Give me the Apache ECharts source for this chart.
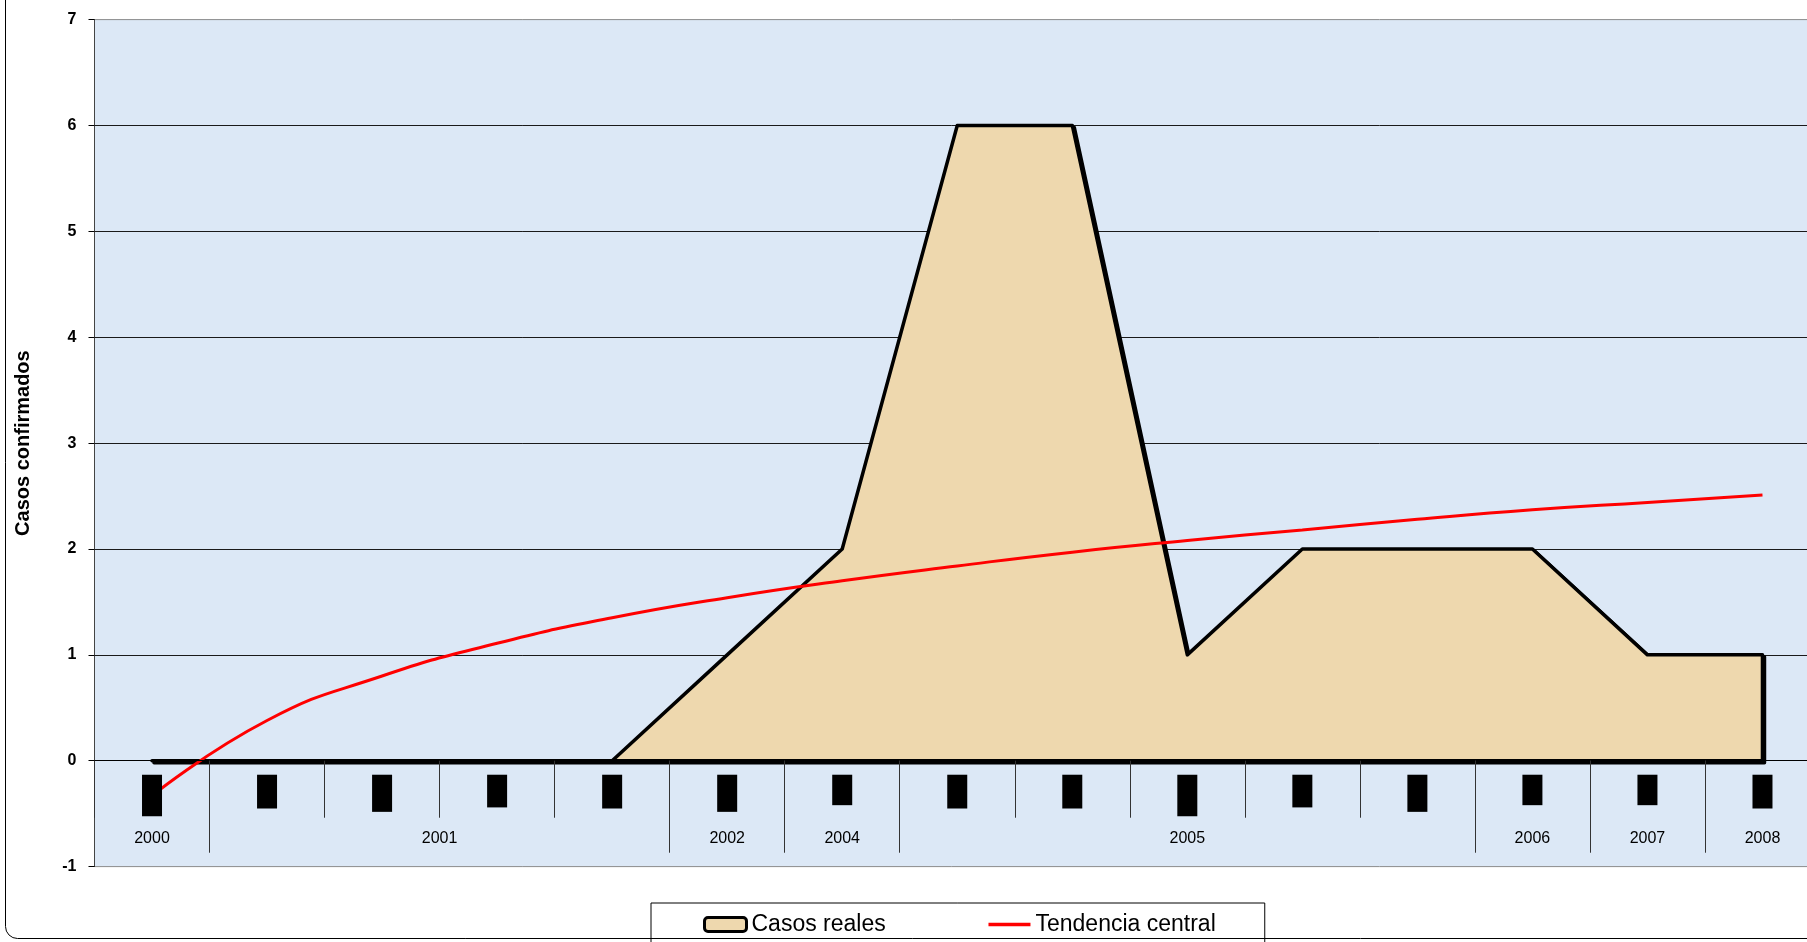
<!DOCTYPE html>
<html>
<head>
<meta charset="utf-8">
<title>Casos confirmados</title>
<script src="https://cdn.jsdelivr.net/npm/echarts@6/dist/echarts.min.js"></script>
<style>
  html, body { margin: 0; padding: 0; background: #fff; }
  #chart { width: 1807px; height: 942px; }
</style>
</head>
<body>
<div id="chart"></div>
<script>
// categorias (las etiquetas de mes aparecen tapadas en el original)
var meses = ['Octubre', 'Marzo', 'Agosto', 'Enero', 'Marzo', 'Agosto', 'Mayo', 'Marzo',
             'Marzo', 'Octubre', 'Enero', 'Agosto', 'Mayo', 'Mayo', 'Marzo'];
var anios = ['2000', '2001', '2002', '2004', '2005', '2006', '2007', '2008'];
var mesesPorAnio = [1, 4, 1, 1, 5, 1, 1, 1];
var casosReales = [0, 0, 0, 0, 0, 1, 2, 6, 6, 1, 2, 2, 2, 1, 1];
var tendencia = [-0.33, 0.38, 0.80, 1.11, 1.35, 1.54, 1.70, 1.84, 1.97, 2.08, 2.18, 2.28, 2.37, 2.44, 2.51];
var yMin = -1, yMax = 7, yPaso = 1;

var fuente = 'Liberation Sans, Arial, sans-serif';
var colorArea = '#eed8ae';

// marco del grafico
var gTop = 19.6, gBottom = 75.4, altoTotal = 942;
var altoGrid = altoTotal - gTop - gBottom;
// el eje de categorias cruza en y = 0
var desplazCero = -(0 - yMin) * altoGrid / (yMax - yMin);

// posiciones de los nombres de año y separadores largos entre años
var etiquetaAnio = {};
var cortesLargos = [];
var acc = 0;
mesesPorAnio.forEach(function (n, k) {
  etiquetaAnio[acc * 2 + n] = anios[k];
  acc += n;
  cortesLargos.push(acc);
});

var myChart = echarts.init(document.getElementById('chart'));
myChart.setOption({
  animation: false,
  graphic: [{
    type: 'rect',
    silent: true,
    shape: { x: 5.5, y: -20, width: 1900, height: 958.5, r: 12 },
    style: { fill: 'none', stroke: '#000', lineWidth: 1 }
  }],
  grid: {
    left: 94.5,
    top: gTop,
    right: -13,
    bottom: gBottom,
    outerBoundsMode: 'none',
    containLabel: false,
    show: true,
    backgroundColor: '#dce8f6',
    borderColor: '#8c8c8c',
    borderWidth: 1
  },
  legend: {
    left: 651,
    top: 903,
    padding: [10, 49, 20, 52],
    itemGap: 101,
    itemWidth: 42,
    itemHeight: 14,
    borderColor: '#000',
    borderWidth: 1,
    selectedMode: false,
    textStyle: { fontSize: 23, color: '#000', fontFamily: fuente },
    data: [
      { name: 'Casos reales', icon: 'roundRect', itemStyle: { color: colorArea, borderColor: '#000', borderWidth: 3 } },
      { name: 'Tendencia central', itemStyle: { opacity: 0 }, lineStyle: { color: '#ff0000', width: 3.5 } }
    ]
  },
  xAxis: [{
    type: 'category',
    position: 'bottom',
    offset: desplazCero,
    data: meses,
    boundaryGap: true,
    z: 5,
    axisLine: { show: true, onZero: false, lineStyle: { color: '#000', width: 1 } },
    axisTick: {
      show: true,
      length: 57,
      interval: 0,
      lineStyle: { color: '#333', width: 1 }
    },
    axisLabel: {
      interval: 0,
      rotate: 90,
      margin: 14,
      formatter: function (v) { return '{b|' + v + '}'; },
      rich: {
        b: { backgroundColor: '#000', color: '#000', fontSize: 10, lineHeight: 10, padding: [5, 3], fontFamily: fuente }
      }
    },
    splitLine: { show: false }
  }, {
    type: 'category',
    position: 'bottom',
    offset: desplazCero,
    data: meses,
    boundaryGap: true,
    z: 5,
    axisLine: { show: false, onZero: false },
    axisTick: {
      show: true,
      length: 92,
      interval: function (i) { return cortesLargos.indexOf(i) >= 0; },
      lineStyle: { color: '#333', width: 1 }
    },
    axisLabel: { show: false },
    splitLine: { show: false }
  }, {
    type: 'value',
    position: 'bottom',
    offset: desplazCero,
    min: 0,
    max: meses.length,
    interval: 0.5,
    z: 5,
    axisLine: { show: false, onZero: false },
    axisTick: { show: false },
    splitLine: { show: false },
    axisLabel: {
      margin: 70,
      fontSize: 16,
      color: '#000',
      fontFamily: fuente,
      showMinLabel: true,
      showMaxLabel: true,
      formatter: function (v) { return etiquetaAnio[Math.round(v * 2)] || ''; }
    }
  }],
  yAxis: {
    type: 'value',
    min: yMin,
    max: yMax,
    interval: yPaso,
    name: 'Casos confirmados',
    nameLocation: 'middle',
    nameRotate: 90,
    nameGap: 61,
    nameTextStyle: { fontSize: 20, fontWeight: 'bold', color: '#000', fontFamily: fuente },
    axisLine: { show: true, onZero: false, lineStyle: { color: '#444', width: 1 } },
    axisTick: { show: true, length: 6, lineStyle: { color: '#000' } },
    axisLabel: { margin: 18, fontSize: 16, fontWeight: 'bold', color: '#000', fontFamily: fuente },
    splitLine: { show: true, showMinLine: false, showMaxLine: false, lineStyle: { color: '#1a1a1a', width: 1 } }
  },
  series: [{
    name: 'Casos reales',
    type: 'custom',
    xAxisIndex: 0,
    yAxisIndex: 0,
    z: 2,
    data: casosReales.map(function (v, i) { return [i, v]; }),
    itemStyle: { color: colorArea, borderColor: '#000', borderWidth: 3 },
    renderItem: function (params, api) {
      if (params.dataIndex !== 0) return;
      var pts = casosReales.map(function (v, i) { return api.coord([i, v]); });
      pts.push(api.coord([casosReales.length - 1, 0]));
      pts.push(api.coord([0, 0]));
      return {
        type: 'group',
        children: [
          // sombra desplazada, como en la hoja de calculo
          { type: 'polygon', x: 2, y: 2, shape: { points: pts },
            style: { fill: '#000', stroke: '#000', lineWidth: 3.5, lineJoin: 'round', lineCap: 'round' } },
          { type: 'polygon', shape: { points: pts },
            style: { fill: colorArea, stroke: '#000', lineWidth: 3.5, lineJoin: 'round', lineCap: 'round' } }
        ]
      };
    }
  }, {
    name: 'Tendencia central',
    type: 'line',
    xAxisIndex: 0,
    yAxisIndex: 0,
    z: 3,
    data: tendencia,
    smooth: true,
    symbol: 'none',
    lineStyle: { color: '#ff0000', width: 3 },
    itemStyle: { color: '#ff0000' }
  }]
});
window.addEventListener('resize', function () {
  myChart.resize();
});
</script>
</body>
</html>
